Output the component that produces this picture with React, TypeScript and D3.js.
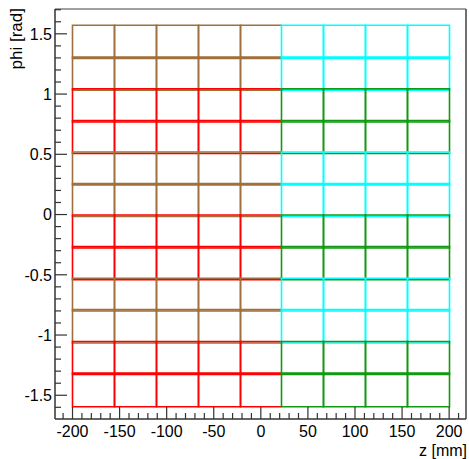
import React from "react";
import * as d3 from "d3";

const W = 469;
const H = 459;

// column edges in z [mm] (9 columns)
const zEdges = [-200, -155.5, -111, -66.5, -22, 22, 66.5, 111, 155.5, 200];
// which half each column belongs to
const columnHalf = ["neg", "neg", "neg", "neg", "neg", "pos", "pos", "pos", "pos"];
// row edges in phi [rad], top to bottom (12 rows)
const phiEdges = [1.565, 1.301, 1.037, 0.774, 0.513, 0.252, -0.01, -0.272, -0.534, -0.795, -1.06, -1.322, -1.59];
// module group of each row
const rowModule = [0, 0, 1, 1, 0, 0, 1, 1, 0, 0, 1, 1];
const palette: Record<string, string[]> = {
  neg: ["#a0703c", "#ff0000"],
  pos: ["#00ffff", "#129912"],
};

const xTicks = [-200, -150, -100, -50, 0, 50, 100, 150, 200];
const yTicks = [-1.5, -1, -0.5, 0, 0.5, 1, 1.5];
const xTitle = "z [mm]";
const yTitle = "phi [rad]";

const FRAME = { left: 55, right: 466, top: 9, bottom: 419 };
const FONT = "'Liberation Sans', Arial, Helvetica, sans-serif";

export default function App() {
  const x = d3.scaleLinear().domain([-218.6, 217.9]).range([FRAME.left, FRAME.right]);
  const y = d3.scaleLinear().domain([-1.697, 1.706]).range([FRAME.bottom, FRAME.top]);

  const xMinor = d3.range(-210, 211, 10).filter((v) => !xTicks.includes(v));
  const yMinor = d3
    .range(-16, 18, 1)
    .map((v) => v / 10)
    .filter((v) => !yTicks.some((t) => Math.abs(t - v) < 1e-6));

  const px = (v: number) => Math.round(v - 0.5) + 0.5;
  const ov = 0.7;
  const cells: { key: string; d: string; color: string }[] = [];
  ["neg", "pos"].forEach((half) => {
    for (let j = 0; j < phiEdges.length - 1; j++) {
      for (let i = 0; i < zEdges.length - 1; i++) {
        if (columnHalf[i] !== half) continue;
        const x0 = px(x(zEdges[i]));
        const x1 = px(x(zEdges[i + 1]));
        const y0 = y(phiEdges[j]) - ov;
        const y1 = y(phiEdges[j + 1]) + ov;
        // right edge hidden under neighbouring half's edge
        const hiddenRight = i + 1 < columnHalf.length && columnHalf[i + 1] !== half;
        const p = d3.path();
        if (hiddenRight) {
          p.moveTo(x1, y0);
          p.lineTo(x0, y0);
          p.lineTo(x0, y1);
          p.lineTo(x1, y1);
        } else {
          p.rect(x0, y0, x1 - x0, y1 - y0);
        }
        cells.push({ key: `${half}-${i}-${j}`, d: p.toString(), color: palette[half][rowModule[j]] });
      }
    }
  });

  return (
    <svg
      width={W}
      height={H}
      style={{ position: "absolute", left: 0, top: 0, background: "#fff" }}
      fontFamily={FONT}
    >
      <rect x={0} y={0} width={W} height={H} fill="#fff" />
      {/* cells */}
      {cells.map((c) => (
        <path key={c.key} d={c.d} fill="none" stroke={c.color} strokeWidth={1.6} />
      ))}
      {/* frame top & right */}
      <line x1={FRAME.left} x2={FRAME.right} y1={FRAME.top} y2={FRAME.top} stroke="#808080" strokeWidth={1.3} />
      <line x1={FRAME.right} x2={FRAME.right} y1={FRAME.top} y2={FRAME.bottom} stroke="#404040" strokeWidth={1.5} />
      {/* y axis */}
      <line x1={FRAME.left} x2={FRAME.left} y1={FRAME.top} y2={FRAME.bottom} stroke="#333" strokeWidth={1.5} />
      {yTicks.map((t) => (
        <g key={`yt${t}`}>
          <line x1={FRAME.left} x2={FRAME.left + 12} y1={y(t)} y2={y(t)} stroke="#333" strokeWidth={1.2} />
          <text x={52} y={y(t)} dy="0.36em" textAnchor="end" fontSize={16} fill="#000">
            {t}
          </text>
        </g>
      ))}
      {yMinor.map((t) => (
        <line key={`ym${t}`} x1={FRAME.left} x2={FRAME.left + 6} y1={y(t)} y2={y(t)} stroke="#333" strokeWidth={1.2} />
      ))}
      {/* x axis */}
      <line x1={FRAME.left} x2={FRAME.right} y1={FRAME.bottom} y2={FRAME.bottom} stroke="#333" strokeWidth={1.5} />
      {xTicks.map((t) => (
        <g key={`xt${t}`}>
          <line x1={x(t)} x2={x(t)} y1={FRAME.bottom} y2={FRAME.bottom - 12} stroke="#333" strokeWidth={1.2} />
          <text x={x(t)} y={437} textAnchor="middle" fontSize={16} fill="#000">
            {t}
          </text>
        </g>
      ))}
      {xMinor.map((t) => (
        <line key={`xm${t}`} x1={x(t)} x2={x(t)} y1={FRAME.bottom} y2={FRAME.bottom - 6} stroke="#333" strokeWidth={1.2} />
      ))}
      {/* titles */}
      <text x={467} y={456} textAnchor="end" fontSize={16} fill="#000">
        {xTitle}
      </text>
      <text transform={`translate(22, 8) rotate(-90)`} textAnchor="end" fontSize={17} fill="#000">
        {yTitle}
      </text>
    </svg>
  );
}
